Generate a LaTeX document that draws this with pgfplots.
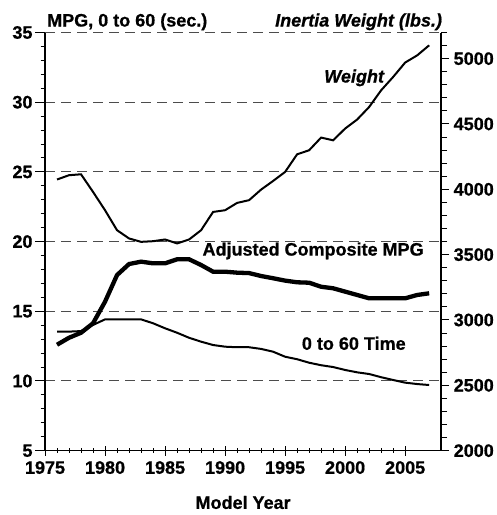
\documentclass[border=0pt]{standalone}
\usepackage{pgfplots}
\pgfplotsset{compat=1.18}
\usepackage{fontspec}
\setmainfont{Liberation Sans}[BoldFont={Liberation Sans Bold},BoldItalicFont={Liberation Sans Bold Italic},BoldFeatures={FakeBold=0.8},BoldItalicFeatures={FakeBold=0.8}]
\newcommand{\bigbf}{\fontsize{18}{21}\selectfont\bfseries}

\begin{document}
\begin{tikzpicture}[font=\bigbf]
\begin{axis}[
  name=main,
  scale only axis, width=396pt, height=418pt,
  xmin=1975, xmax=2008, ymin=5, ymax=35,
  axis x line*=bottom, axis y line*=left,
  axis line style={line width=1.4pt},
  xtick={1975,1980,...,2005}, minor x tick num=4,
  ytick={5,10,...,35}, minor y tick num=4,
  xticklabel={\bigbf\pgfmathprintnumber[assume math mode=true,1000 sep={},fixed,precision=0]{\tick}},
  yticklabel={\bigbf\pgfmathprintnumber[assume math mode=true,1000 sep={},fixed,precision=0]{\tick}},
  ymajorgrids,
  grid style={line width=1pt, black!70, dash pattern=on 10pt off 6pt},
  major tick length=10pt, minor tick length=4.5pt,
  every tick/.style={line width=1pt, black},
  xtick align=center,
  ytick align=outside,
  yticklabel style={xshift=1pt},
  xticklabel style={yshift=-2pt},
  xlabel={Model Year},
  xlabel style={font=\bigbf, yshift=-15pt},
  clip=false,
]
\addplot[line width=4.3pt, black] coordinates {
(1976,12.6)(1977,13.1)(1978,13.46)(1979,14.14)(1980,15.69)(1981,17.6)(1982,18.39)(1983,18.56)(1984,18.44)(1985,18.44)(1986,18.73)(1987,18.73)(1988,18.32)(1989,17.84)(1990,17.84)(1991,17.77)(1992,17.74)(1993,17.53)(1994,17.37)(1995,17.2)(1996,17.08)(1997,17.05)(1998,16.76)(1999,16.65)(2000,16.41)(2001,16.17)(2002,15.93)(2003,15.93)(2004,15.93)(2005,15.93)(2006,16.17)(2007,16.29)
};
\addplot[line width=2pt, black] coordinates {
(1976,13.54)(1977,13.54)(1978,13.58)(1979,14.02)(1980,14.42)(1981,14.42)(1982,14.42)(1983,14.42)(1984,14.14)(1985,13.78)(1986,13.46)(1987,13.1)(1988,12.82)(1989,12.58)(1990,12.46)(1991,12.42)(1992,12.42)(1993,12.3)(1994,12.1)(1995,11.74)(1996,11.56)(1997,11.31)(1998,11.13)(1999,11.0)(2000,10.79)(2001,10.62)(2002,10.5)(2003,10.27)(2004,10.07)(2005,9.88)(2006,9.78)(2007,9.71)
};
\node at (axis cs:1997.33,19.33) {Adjusted Composite MPG};
\node at (axis cs:2000.72,12.70) {0 to 60 Time};
\node[anchor=base west, inner sep=0pt] at ([xshift=2pt,yshift=6pt]rel axis cs:0,1) {MPG, 0 to 60 (sec.)};
\node[anchor=base east, inner sep=0pt] at ([xshift=1pt,yshift=6pt]rel axis cs:1,1) {\itshape Inertia Weight (lbs.)};
\end{axis}
\begin{axis}[
  scale only axis, width=396pt, height=418pt,
  xmin=1975, xmax=2008, ymin=2000, ymax=5200,
  axis y line*=right, axis x line=none,
  axis line style={line width=1.4pt},
  ytick={2000,2500,...,5000}, minor ytick={2100,2200,...,5200},
  yticklabel={\bigbf\pgfmathprintnumber[assume math mode=true,1000 sep={},fixed,precision=0]{\tick}},
  major tick length=8pt, minor tick length=6pt,
  every tick/.style={line width=1pt, black},
  ytick align=outside,
  yticklabel style={xshift=1pt},
  clip=false,
]
\addplot[line width=2pt, black] coordinates {
(1976,4075)(1977,4108)(1978,4115)(1979,3980)(1980,3840)(1981,3687)(1982,3624)(1983,3598)(1984,3603)(1985,3616)(1986,3586)(1987,3616)(1988,3687)(1989,3827)(1990,3840)(1991,3896)(1992,3917)(1993,3998)(1994,4064)(1995,4133)(1996,4268)(1997,4299)(1998,4396)(1999,4375)(2000,4465)(2001,4534)(2002,4630)(2003,4758)(2004,4860)(2005,4970)(2006,5025)(2007,5102)
};
\node at (axis cs:2000.75,4853) {\itshape Weight};
\end{axis}
\pgfresetboundingbox
\path[use as bounding box] ([xshift=-45pt,yshift=-64.3pt]main.south west) rectangle ([xshift=55pt,yshift=32.5pt]main.north east);
\end{tikzpicture}
\end{document}
